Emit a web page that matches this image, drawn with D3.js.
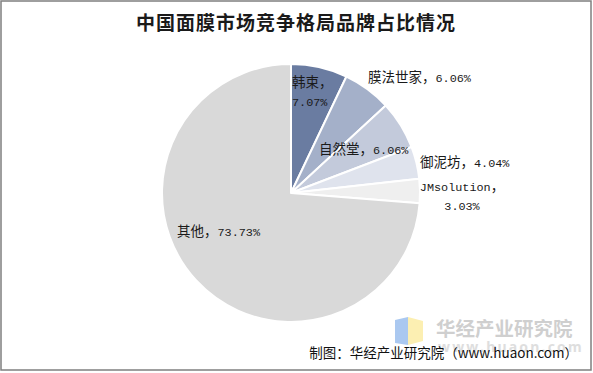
<!DOCTYPE html>
<html>
<head>
<meta charset="utf-8">
<script src="https://cdn.jsdelivr.net/npm/d3@7"></script>
<style>
body { margin: 0; background: #fff; }
svg { display: block; }
</style>
</head>
<body>
<svg id="chart" width="593" height="373"></svg>
<script>
var brands = ["韩束", "膜法世家", "自然堂", "御泥坊", "JMsolution", "其他"];
var shares = [7.07, 6.06, 6.06, 4.04, 3.03, 73.73];
var sliceColors = ["#6a7ca1", "#a4b0c9", "#c3cadb", "#dfe3ed", "#efefef", "#d9d9d9"];

var title = "中国面膜市场竞争格局品牌占比情况";
var source = "制图：华经产业研究院（www.huaon.com）";

// label placement relative to pie centre
var labelLayout = [
    { dx: 1, dy: -106, anchor: "start", split: true },
    { dx: 77, dy: -111, anchor: "start", split: false },
    { dx: 28, dy: -39, anchor: "start", split: false },
    { dx: 129, dy: -26, anchor: "start", split: false },
    { dx: 171, dy: -2, anchor: "middle", split: true },
    { dx: -114, dy: 43, anchor: "start", split: false }
];

var svg = d3.select("#chart");
var cx = 291, cy = 193, radius = 129;

// outer frame
svg.append("rect")
    .attr("x", 1).attr("y", 1)
    .attr("width", 590).attr("height", 369)
    .attr("fill", "#fff")
    .attr("stroke", "#7f7f7f")
    .attr("stroke-width", 1.5);

svg.append("text")
    .attr("x", 296).attr("y", 30)
    .attr("text-anchor", "middle")
    .attr("font-family", "Noto Sans CJK SC")
    .attr("font-weight", "bold")
    .attr("font-size", 19)
    .attr("letter-spacing", 1)
    .attr("fill", "#1a1a1a")
    .text(title);

var pie = d3.pie().sort(null).value(function(d) { return d; });
var arc = d3.arc().innerRadius(0).outerRadius(radius);
var arcs = pie(shares);

var g = svg.append("g").attr("transform", "translate(" + cx + "," + cy + ")");

g.selectAll("path.slice")
    .data(arcs)
    .enter().append("path")
    .attr("class", "slice")
    .attr("d", arc)
    .attr("fill", function(d, i) { return sliceColors[i]; })
    .attr("stroke", "#fff")
    .attr("stroke-width", 2)
    .attr("stroke-linejoin", "round");

// watermark
var wm = svg.append("g");
wm.append("path")
    .attr("d", "M395,320 L408,317 L408,345 L395,343 Z")
    .attr("fill", "#aac8f0");
wm.append("path")
    .attr("d", "M408,317 L423,321 L423,341 L408,345 Z")
    .attr("fill", "#fcefb2");
wm.append("text")
    .attr("x", 436).attr("y", 336)
    .attr("font-family", "Noto Sans CJK SC")
    .attr("font-weight", "bold")
    .attr("font-size", 19.5)
    .attr("fill", "#cfcfcf")
    .text("华经产业研究院");
wm.append("text")
    .attr("x", 438).attr("y", 352)
    .attr("font-family", "Noto Sans")
    .attr("font-weight", "bold")
    .attr("font-size", 14)
    .attr("letter-spacing", 2.2)
    .attr("fill", "#dedede")
    .text("www.huaon.com");

// split a string into CJK and latin runs so digits get a narrow mono face
function addRuns(textSel, str) {
    var runs = str.match(/[\u3000-\u9fff\uff00-\uffef]+|[^\u3000-\u9fff\uff00-\uffef]+/g) || [];
    runs.forEach(function(r) {
        var cjk = /[\u3000-\u9fff\uff00-\uffef]/.test(r);
        textSel.append("tspan")
            .attr("font-family", cjk ? "Noto Sans CJK SC" : "Liberation Mono")
            .attr("font-size", cjk ? 13.5 : 11.8)
            .text(r);
    });
}

arcs.forEach(function(d, i) {
    var lay = labelLayout[i];
    var pct = d3.format(".2f")(shares[i]) + "%";
    var lines = lay.split ? [brands[i] + "，", pct] : [brands[i] + "，" + pct];
    lines.forEach(function(line, j) {
        var t = g.append("text")
            .attr("x", lay.dx)
            .attr("y", lay.dy + j * 19)
            .attr("text-anchor", lay.anchor)
            .attr("fill", "#1a1a1a");
        addRuns(t, line);
    });
});

svg.append("text")
    .attr("x", 578).attr("y", 358)
    .attr("text-anchor", "end")
    .attr("font-family", "Noto Sans CJK SC")
    .attr("font-size", 13.5)
    .attr("fill", "#111")
    .text(source);
</script>
</body>
</html>
